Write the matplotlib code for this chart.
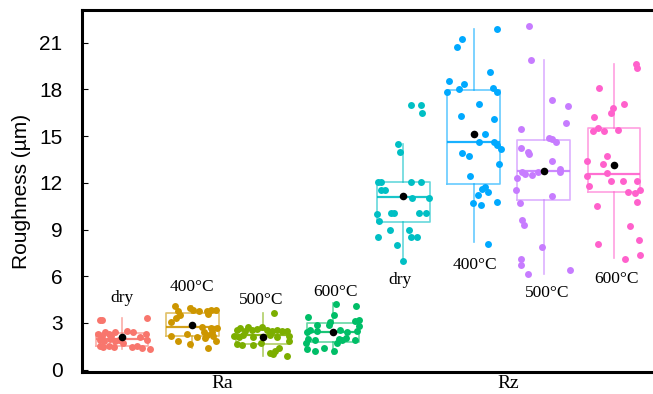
import matplotlib
matplotlib.use("Agg")
import matplotlib.pyplot as plt
import numpy as np

# group order: Ra dry/400/500/600, Rz dry/400/500/600
groups = ["dry", "400°C", "500°C", "600°C", "dry", "400°C", "500°C", "600°C"]
colors = ["#F8766D", "#CD9600", "#7CAE00", "#00BE67",
          "#00BFC4", "#00A9FF", "#C77CFF", "#FF61CC"]

# box statistics: whislo, q1, med, q3, whishi, mean
whislo = [1.30, 1.40, 0.85, 1.00, 7.00, 8.19, 6.14, 7.16]
q1 = [1.54, 2.16, 1.68, 1.80, 9.50, 11.91, 10.89, 11.38]
med = [2.00, 2.74, 2.25, 2.40, 11.07, 14.61, 12.79, 12.55]
q3 = [2.35, 3.65, 2.55, 3.00, 12.03, 17.94, 14.78, 15.51]
whishi = [3.32, 4.06, 3.64, 4.28, 14.50, 21.88, 19.91, 19.63]
means = [2.07, 2.89, 2.10, 2.39, 11.18, 15.12, 12.77, 13.15]

# individual measurements (jittered points)
ra_dry = [3.21, 3.16, 3.32, 2.31, 2.18, 2.40, 2.31, 2.14, 2.40, 1.92, 1.82, 1.97, 1.82, 1.54,
          1.45, 1.54, 1.45, 2.46, 2.40, 2.10, 2.31, 1.92, 1.45, 1.54, 1.39, 1.32, 1.71, 1.92]
ra_dry_dx = [-0.32, -0.29, 0.36, -0.34, -0.29, -0.24, -0.19, -0.15, -0.10, -0.31, -0.26, -0.17,
             -0.10, -0.32, -0.27, -0.19, -0.12, 0.07, 0.15, 0.26, 0.34, 0.36, 0.14, 0.22, 0.29,
             0.40, 0.02, -0.05]
ra_400 = [4.06, 3.79, 3.48, 3.31, 3.06, 3.95, 3.85, 3.74, 3.79, 3.85, 3.85, 3.57, 2.14, 1.86,
          2.29, 1.65, 2.08, 2.72, 2.42, 2.25, 2.67, 2.42, 2.67, 2.03, 2.14, 1.86, 1.39]
ra_400_dx = [-0.24, -0.21, -0.18, -0.23, -0.30, -0.04, 0.01, 0.09, 0.21, 0.27, 0.33, 0.22,
             -0.31, -0.21, -0.08, -0.03, 0.06, 0.14, 0.16, 0.21, 0.26, 0.28, 0.35, 0.18, 0.29,
             0.33, 0.22]
ra_500 = [3.64, 2.57, 2.67, 2.50, 2.72, 2.57, 2.63, 2.72, 2.57, 2.50, 2.57, 2.46, 2.50, 2.14,
          2.08, 2.25, 2.08, 2.20, 2.08, 2.14, 1.82, 1.65, 1.60, 1.60, 1.71, 1.07, 1.17, 1.39,
          1.01, 0.85]
ra_500_dx = [0.16, -0.37, -0.32, -0.25, -0.21, -0.15, -0.08, -0.01, 0.06, 0.13, 0.20, 0.28,
             0.35, -0.41, -0.34, -0.28, -0.13, 0.11, 0.20, 0.37, 0.37, -0.37, -0.29, -0.13,
             -0.03, 0.11, 0.18, 0.23, 0.15, 0.34]
ra_600 = [4.23, 4.11, 3.38, 3.53, 3.17, 3.10, 2.89, 3.04, 2.89, 2.39, 2.52, 2.46, 2.57, 2.39,
          2.46, 2.78, 1.97, 1.92, 1.97, 1.88, 2.03, 1.92, 1.71, 1.33, 1.22, 1.39, 1.17, 1.71]
ra_600_dx = [0.05, 0.33, -0.35, 0.02, 0.37, 0.32, -0.23, -0.04, -0.06, -0.37, -0.32, -0.23,
             0.10, 0.20, 0.34, 0.37, -0.35, -0.25, 0.08, 0.13, 0.18, 0.32, -0.39, -0.37, -0.25,
             -0.13, 0.01, 0.06]
rz_dry = [17.0, 17.0, 16.49, 14.52, 14.0, 12.03, 12.03, 12.03, 12.03, 11.56, 11.56, 11.05, 11.05,
          10.0, 10.06, 10.06, 10.06, 10.06, 9.53, 8.52, 8.99, 8.99, 8.52, 8.52, 8.01, 7.0]
rz_dry_dx = [0.11, 0.26, 0.27, -0.07, -0.04, -0.36, -0.31, 0.11, 0.26, -0.31, -0.26, 0.13, 0.37,
             -0.37, -0.17, -0.13, 0.22, 0.33, -0.34, -0.36, -0.19, 0.08, 0.11, 0.19, -0.09, -0.01]
rz_400 = [21.88, 21.24, 20.74, 19.14, 18.54, 18.33, 18.03, 17.82, 18.07, 17.82, 17.09, 16.32,
          16.10, 15.12, 14.61, 14.61, 14.44, 14.16, 13.90, 13.73, 13.24, 12.43, 11.63, 11.72,
          11.42, 11.21, 10.71, 10.57, 10.80, 8.10]
rz_400_dx = [0.34, -0.17, -0.23, 0.24, -0.35, -0.13, -0.21, -0.38, 0.28, 0.33, 0.08, -0.18,
             0.29, 0.17, 0.08, 0.29, 0.34, 0.39, -0.17, -0.06, 0.36, -0.05, 0.12, 0.16, 0.20,
             0.07, -0.01, 0.10, 0.33, 0.20]
rz_500 = [22.09, 19.91, 17.30, 16.92, 15.83, 15.48, 14.90, 14.82, 14.61, 14.22, 14.01, 13.88,
          13.41, 12.72, 12.56, 12.51, 12.68, 12.90, 12.68, 12.30, 11.53, 11.18, 10.69, 9.62,
          9.30, 7.89, 7.12, 6.74, 6.14, 6.40]
rz_500_dx = [-0.21, -0.18, 0.12, 0.34, 0.31, -0.32, 0.08, 0.12, 0.18, -0.33, -0.23, -0.21, 0.11,
             -0.31, -0.27, -0.17, -0.08, 0.23, 0.23, -0.38, -0.39, 0.12, -0.34, -0.31, -0.28,
             -0.03, -0.33, -0.33, -0.23, 0.37]
rz_600 = [19.63, 19.40, 18.09, 17.09, 16.79, 16.47, 16.21, 15.51, 15.32, 15.32, 15.40, 13.75,
          13.24, 13.41, 12.66, 12.43, 11.81, 12.13, 12.13, 12.13, 11.55, 11.34, 11.44, 10.80,
          10.54, 9.20, 8.34, 8.10, 7.12, 7.38]
rz_600_dx = [0.31, 0.32, -0.22, 0.14, -0.02, -0.05, -0.29, -0.23, -0.30, -0.14, 0.05, -0.10,
             -0.16, -0.39, -0.10, -0.39, -0.36, -0.05, 0.12, 0.33, 0.37, 0.30, 0.20, 0.33, -0.24,
             0.22, 0.36, -0.23, 0.16, 0.37]

points = [ra_dry, ra_400, ra_500, ra_600, rz_dry, rz_400, rz_500, rz_600]
offsets = [ra_dry_dx, ra_400_dx, ra_500_dx, ra_600_dx, rz_dry_dx, rz_400_dx, rz_500_dx, rz_600_dx]

# where the condition labels sit (y, in data units)
label_y = [4.62, 5.33, 4.49, 5.00, 5.77, 6.74, 4.92, 5.82]
label_dx = [0.0, 0.0, -0.02, 0.03, -0.04, 0.02, 0.05, 0.04]

fig = plt.figure(figsize=(6.53, 3.94), dpi=100)
ax = fig.add_axes([0.1256, 0.0558, 0.8744, 0.9188])

pos = np.arange(len(groups))
for i in range(len(groups)):
    st = dict(whislo=whislo[i], q1=q1[i], med=med[i], q3=q3[i], whishi=whishi[i], fliers=[])
    c = colors[i]
    ax.bxp([st], positions=[pos[i]], widths=0.75, showcaps=False, showfliers=False,
           boxprops=dict(color=c, alpha=0.6, lw=1.2),
           whiskerprops=dict(color=c, alpha=0.6, lw=1.2),
           medianprops=dict(color=c, alpha=0.9, lw=1.6))
    ax.scatter(pos[i] + np.array(offsets[i]), points[i], s=25, color=c, lw=0, zorder=3)
    ax.scatter([pos[i]], [means[i]], s=30, color="black", lw=0, zorder=4)
    ax.text(pos[i] + label_dx[i], label_y[i], groups[i], ha="center", va="center",
            fontsize=12.5, family="Liberation Serif")

ax.set_xlim(-0.569, 7.553)
ax.set_ylim(-0.15, 23.1)
ax.set_yticks([0, 3, 6, 9, 12, 15, 18, 21])
ax.set_xticks([1.42, 5.5])
ax.set_xticklabels(["Ra", "Rz"], family="Liberation Serif", fontsize=14)
ax.tick_params(axis="x", length=0, pad=2)
ax.tick_params(axis="y", direction="in", length=4.5, width=0.8, pad=14, labelsize=15)
for lab in ax.get_yticklabels():
    lab.set_family("Liberation Sans")
ax.set_ylabel("Roughness (µm)", fontsize=15, family="Liberation Sans", labelpad=6)
for sp in ax.spines.values():
    sp.set_linewidth(2.2)
ax.spines["right"].set_visible(False)

fig.savefig("out.png", dpi=100)
